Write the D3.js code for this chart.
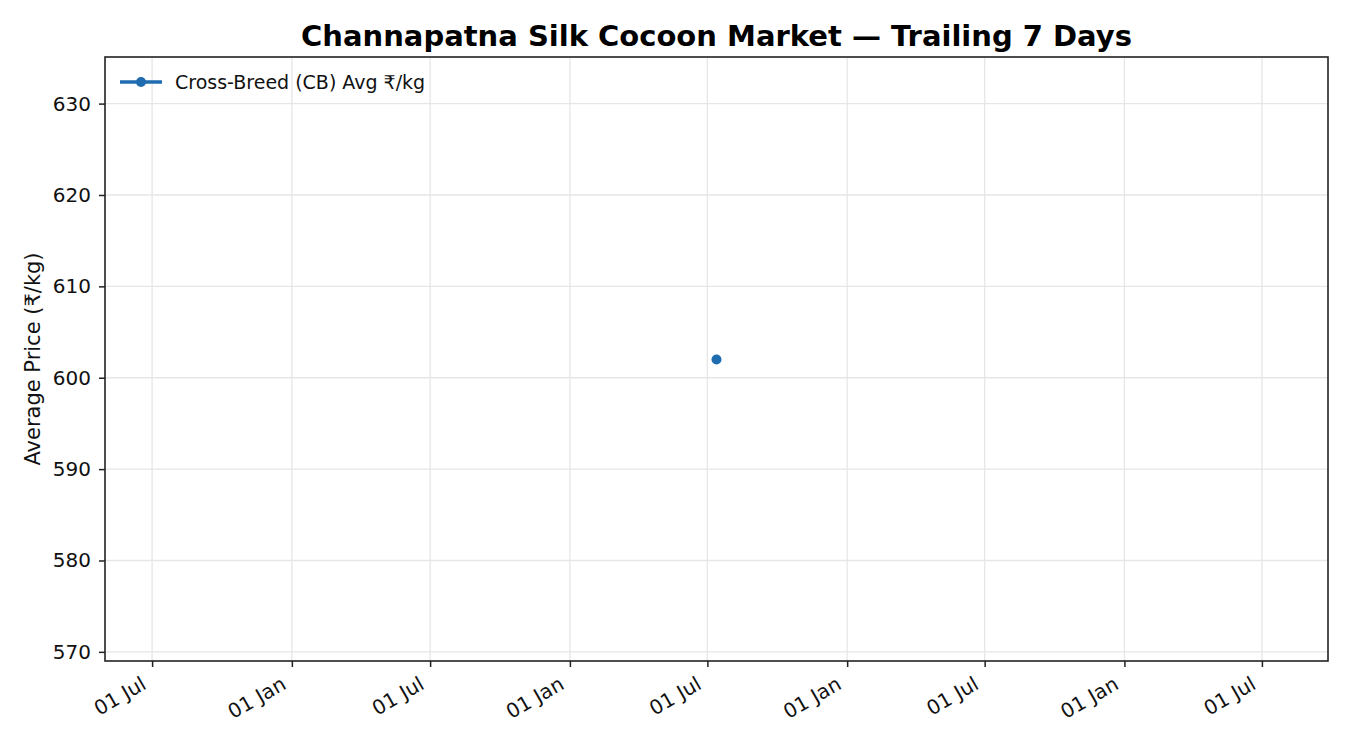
<!DOCTYPE html>
<html>
<head>
<meta charset="utf-8">
<script src="https://cdn.jsdelivr.net/npm/d3@7"></script>
<style>
  body { margin: 0; background: #fff; }
  text { font-family: "DejaVu Sans", sans-serif; }
</style>
</head>
<body>
<svg width="1350" height="750"></svg>
<script>
// chart data
const dates = ["2025-07-13"];
const prices = [602];
const seriesName = "Cross-Breed (CB) Avg ₹/kg";
const yTicks = [570, 580, 590, 600, 610, 620, 630];

const parse = d3.timeParse("%Y-%m-%d");
const data = dates.map((d, i) => ({ date: parse(d), price: prices[i] }));

const svg = d3.select("svg");
const margin = { left: 105, right: 22, top: 57, bottom: 89 };
const width = 1350 - margin.left - margin.right;
const height = 750 - margin.top - margin.bottom;
const blue = "#1f6db0";

const g = svg.append("g").attr("transform", `translate(${margin.left},${margin.top})`);

// single point -> pad x range by ~2.2 years each side, y by ~33 each side
const center = data[0].date;
const xScale = d3.scaleTime()
  .domain([d3.timeDay.offset(center, -805), d3.timeDay.offset(center, 805)])
  .range([0, width]);
const yScale = d3.scaleLinear()
  .domain([prices[0] - 33, prices[0] + 33.1])
  .range([height, 0]);

const xTicks = xScale.ticks(d3.timeMonth.every(6));

// grid
g.append("g").selectAll("line").data(xTicks).enter().append("line")
  .attr("x1", (d) => xScale(d)).attr("x2", (d) => xScale(d))
  .attr("y1", 0).attr("y2", height)
  .attr("stroke", "#e6e6e6").attr("stroke-width", 1.3);
g.append("g").selectAll("line").data(yTicks).enter().append("line")
  .attr("x1", 0).attr("x2", width)
  .attr("y1", (d) => yScale(d)).attr("y2", (d) => yScale(d))
  .attr("stroke", "#e6e6e6").attr("stroke-width", 1.3);

// axes
const yAxis = g.append("g")
  .call(d3.axisLeft(yScale).tickValues(yTicks).tickSize(6).tickPadding(8));
const xAxis = g.append("g")
  .attr("transform", `translate(0,${height})`)
  .call(d3.axisBottom(xScale).tickValues(xTicks).tickSize(6).tickFormat(d3.timeFormat("%d %b")));

[yAxis, xAxis].forEach((ax) => {
  ax.select(".domain").remove();
  ax.selectAll("line").attr("stroke", "#222").attr("stroke-width", 1.5);
  ax.selectAll("text").attr("fill", "#111").style("font-size", "20px");
});
xAxis.selectAll("text")
  .attr("text-anchor", "end")
  .attr("dy", null)
  .attr("y", 0)
  .attr("transform", "translate(-5,27) rotate(-30)");

// frame
g.append("rect")
  .attr("width", width).attr("height", height)
  .attr("fill", "none").attr("stroke", "#222").attr("stroke-width", 1.6);

// series
const line = d3.line().x((d) => xScale(d.date)).y((d) => yScale(d.price));
g.append("path").datum(data)
  .attr("d", line).attr("fill", "none")
  .attr("stroke", blue).attr("stroke-width", 3);
g.selectAll(".dot").data(data).enter().append("circle")
  .attr("class", "dot")
  .attr("cx", (d) => xScale(d.date)).attr("cy", (d) => yScale(d.price))
  .attr("r", 5).attr("fill", blue);

// legend
const leg = g.append("g").attr("transform", "translate(15,25)");
leg.append("line").attr("x1", 0).attr("x2", 42).attr("y1", 0).attr("y2", 0)
  .attr("stroke", blue).attr("stroke-width", 3.5);
leg.append("circle").attr("cx", 21).attr("cy", 0).attr("r", 5).attr("fill", blue);
leg.append("text").attr("x", 55).attr("y", 6.5)
  .style("font-size", "19px").attr("fill", "#111").text(seriesName);

// title
svg.append("text")
  .attr("x", margin.left + width / 2).attr("y", 46)
  .attr("text-anchor", "middle")
  .style("font-size", "29px").style("font-weight", "bold")
  .text("Channapatna Silk Cocoon Market — Trailing 7 Days");

// y label
svg.append("text")
  .attr("transform", `translate(40,${margin.top + height / 2}) rotate(-90)`)
  .attr("text-anchor", "middle")
  .style("font-size", "21px").attr("fill", "#111")
  .text("Average Price (₹/kg)");
</script>
</body>
</html>
